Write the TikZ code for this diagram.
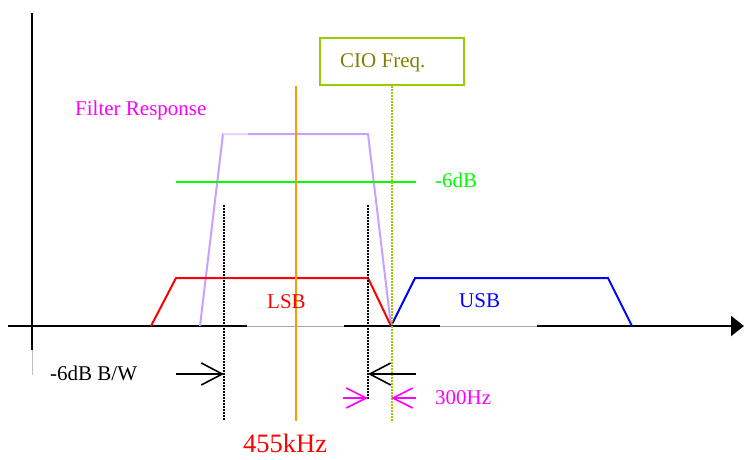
\documentclass[tikz,border=0pt]{standalone}
\usepackage{fontspec}
\setmainfont{Liberation Serif}
\usetikzlibrary{arrows.meta}
\definecolor{lav}{RGB}{200,160,255}
\definecolor{org}{RGB}{255,153,0}
\definecolor{ygreen}{RGB}{153,204,0}
\definecolor{olivetxt}{RGB}{128,128,0}
\definecolor{mag}{RGB}{255,0,255}
\definecolor{grn}{RGB}{0,255,0}
\tikzset{
  lbl/.style={anchor=base west,inner sep=0pt,font=\fontsize{21}{25}\selectfont},
  bw/.style={black,line width=1.6pt,-{Straight Barb[length=21pt,width=22pt,line width=1.6pt]}},
  mg/.style={mag,line width=1.6pt,-{Straight Barb[length=20pt,width=20pt,line width=1.6pt]}},
  dotblk/.style={black,line width=1.4pt,dash pattern=on 1.5pt off 1.5pt},
  band/.style={line width=2pt,line join=miter}
}
\begin{document}
\begin{tikzpicture}[x=1pt,y=-1pt]
\useasboundingbox (0,0) rectangle (744,459);
% axes
\coordinate (ax0) at (8,326);
\coordinate (ax1) at (744,326);
\draw[line width=2pt,-{Triangle[length=13pt,width=20pt]}] (ax0) -- (ax1);
\draw[white,line width=3pt] (247,326) -- (344,326) (440,326) -- (537,326);
\draw[gray!70,line width=1pt] (247,326) -- (344,326) (440,326) -- (537,326);
\coordinate (ay0) at (32,13);
\coordinate (ay1) at (32,350);
\coordinate (ay2) at (32,375);
\draw[line width=2pt] (ay0) -- (ay1);
\draw[gray!50,line width=1pt] (ay1) -- (ay2);
% filter response
\draw[lav,band] (200,326) -- (223,134) -- (248,134);
\draw[lav!40,line width=2pt] (223,134) -- (248,134);
\draw[lav,band] (248,134) -- (368,134) -- (391,326);
% -6dB line
\draw[grn,line width=2pt] (176,182) -- (416,182);
% LSB / USB
\draw[red,band] (151,326) -- (176,278) -- (368,278) -- (391,326);
\draw[blue,band] (391,326) -- (415,278) -- (608,278) -- (632,326);
% orange centre
\draw[org,line width=2pt] (296,86) -- (296,421);
% dotted lines
\draw[dotblk] (224,205) -- (224,421);
\draw[dotblk] (368,205) -- (368,400);
% CIO box
\node[draw=ygreen,line width=2pt,minimum width=144pt,minimum height=47pt,inner sep=0pt] (cio) at (392,61.5) {};
\node[lbl,text=olivetxt] (ciot) at (340,67) {CIO Freq.};
\coordinate (cioend) at (392,422);
\draw[ygreen,line width=1.4pt,dash pattern=on 1.5pt off 1.5pt] (cio.south) -- (cioend);
% texts
\node[lbl,text=mag] (fr) at (75,115) {Filter Response};
\node[lbl,text=grn] (db6) at (435,187) {-6dB};
\node[lbl,text=red] (lsb) at (267,308) {LSB};
\node[lbl,text=blue] (usb) at (459,307) {USB};
\node[lbl] (bwt) at (50,380) {-6dB B/W};
\node[lbl,text=mag] (hz) at (435,404) {300Hz};
\node[anchor=base west,inner sep=0pt,text=red,font=\fontsize{26.5}{30}\selectfont] (khz) at (243,452) {455kHz};
% arrows
\coordinate (a1s) at (176,374); \coordinate (a1e) at (224,374);
\coordinate (a2s) at (416,374); \coordinate (a2e) at (368,374);
\draw[bw] (a1s) -- (a1e);
\draw[bw] (a2s) -- (a2e);
\coordinate (m1s) at (343,398); \coordinate (m1e) at (368,398);
\coordinate (m2s) at (416,398); \coordinate (m2e) at (391,398);
\draw[mg] (m1s) -- (m1e);
\draw[mg] (m2s) -- (m2e);
\end{tikzpicture}
\end{document}
